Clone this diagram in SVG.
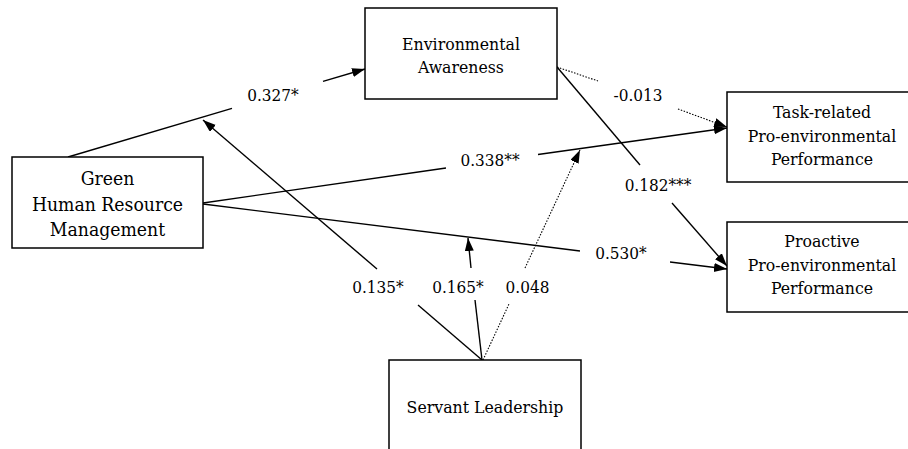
<svg xmlns="http://www.w3.org/2000/svg" width="908" height="449" viewBox="0 0 908 449">
<style>
.box{fill:#fff;stroke:#000;stroke-width:1.5}
.t{font-family:'DejaVu Serif Condensed','DejaVu Serif',serif;font-stretch:condensed;font-size:17.5px;fill:#000;text-anchor:middle}
.tb{font-size:19.2px}
.lbl{font-family:'DejaVu Serif Condensed','DejaVu Serif',serif;font-stretch:condensed;font-size:17px;fill:#000;text-anchor:middle}
.ln{stroke:#000;stroke-width:1.4;fill:none}
.dt{stroke:#000;stroke-width:1.1;fill:none;stroke-dasharray:1.5 1.5}
</style>
<defs>
<marker id="ah" markerUnits="userSpaceOnUse" markerWidth="14" markerHeight="10" refX="13" refY="4.5" orient="auto">
<path d="M0,0 L13,4.5 L0,9 z" fill="#000"/>
</marker>
</defs>
<rect width="908" height="449" fill="#fff"/>
<g id="connectors">
<line class="ln" x1="68" y1="157" x2="232" y2="108.4"/>
<line class="ln" x1="323" y1="81.4" x2="365" y2="69" marker-end="url(#ah)"/>
<line class="ln" x1="482" y1="360" x2="418" y2="305"/>
<line class="ln" x1="377" y1="269" x2="203" y2="120" marker-end="url(#ah)"/>
<line class="ln" x1="482" y1="360" x2="475" y2="300"/>
<line class="ln" x1="471" y1="268" x2="468" y2="238" marker-end="url(#ah)"/>
<line class="dt" x1="483" y1="360" x2="509" y2="304"/>
<line class="dt" x1="525" y1="268" x2="580" y2="150" marker-end="url(#ah)"/>
<line class="ln" x1="203" y1="203" x2="446" y2="168"/>
<line class="ln" x1="538" y1="154.5" x2="727" y2="128" marker-end="url(#ah)"/>
<line class="ln" x1="203" y1="204" x2="580" y2="251"/>
<line class="ln" x1="670" y1="262" x2="727" y2="269" marker-end="url(#ah)"/>
<line class="ln" x1="557" y1="67" x2="640" y2="165"/>
<line class="ln" x1="672" y1="203" x2="727" y2="266" marker-end="url(#ah)"/>
<line class="dt" x1="557" y1="67" x2="598" y2="81"/>
<line class="dt" x1="678" y1="109" x2="727" y2="127" marker-end="url(#ah)"/>
<text class="lbl" x="273" y="101">0.327*</text>
<text class="lbl" x="638" y="101">-0.013</text>
<text class="lbl" x="490" y="166">0.338**</text>
<text class="lbl" x="658" y="191">0.182***</text>
<text class="lbl" x="378" y="293">0.135*</text>
<text class="lbl" x="458" y="293">0.165*</text>
<text class="lbl" x="527.5" y="293">0.048</text>
<text class="lbl" x="621" y="259">0.530*</text>
</g>
<g id="ea">
<rect class="box" x="365" y="8" width="192" height="91"/>
<text class="t" x="461" y="50">Environmental</text>
<text class="t" x="461" y="73">Awareness</text>
</g>
<g id="ghrm">
<rect class="box" x="12" y="157" width="191" height="91"/>
<text class="t tb" x="107.5" y="185">Green</text>
<text class="t tb" x="107.5" y="211">Human Resource</text>
<text class="t tb" x="107.5" y="236">Management</text>
</g>
<g id="task">
<rect class="box" x="727" y="92" width="190" height="90"/>
<text class="t" x="822" y="118">Task-related</text>
<text class="t" x="822" y="142">Pro-environmental</text>
<text class="t" x="822" y="165">Performance</text>
</g>
<g id="proactive">
<rect class="box" x="727" y="222" width="190" height="90"/>
<text class="t" x="822" y="247">Proactive</text>
<text class="t" x="822" y="271">Pro-environmental</text>
<text class="t" x="822" y="294">Performance</text>
</g>
<g id="servant">
<rect class="box" x="389" y="360" width="192" height="100"/>
<text class="t" x="485" y="413">Servant Leadership</text>
</g>
</svg>
